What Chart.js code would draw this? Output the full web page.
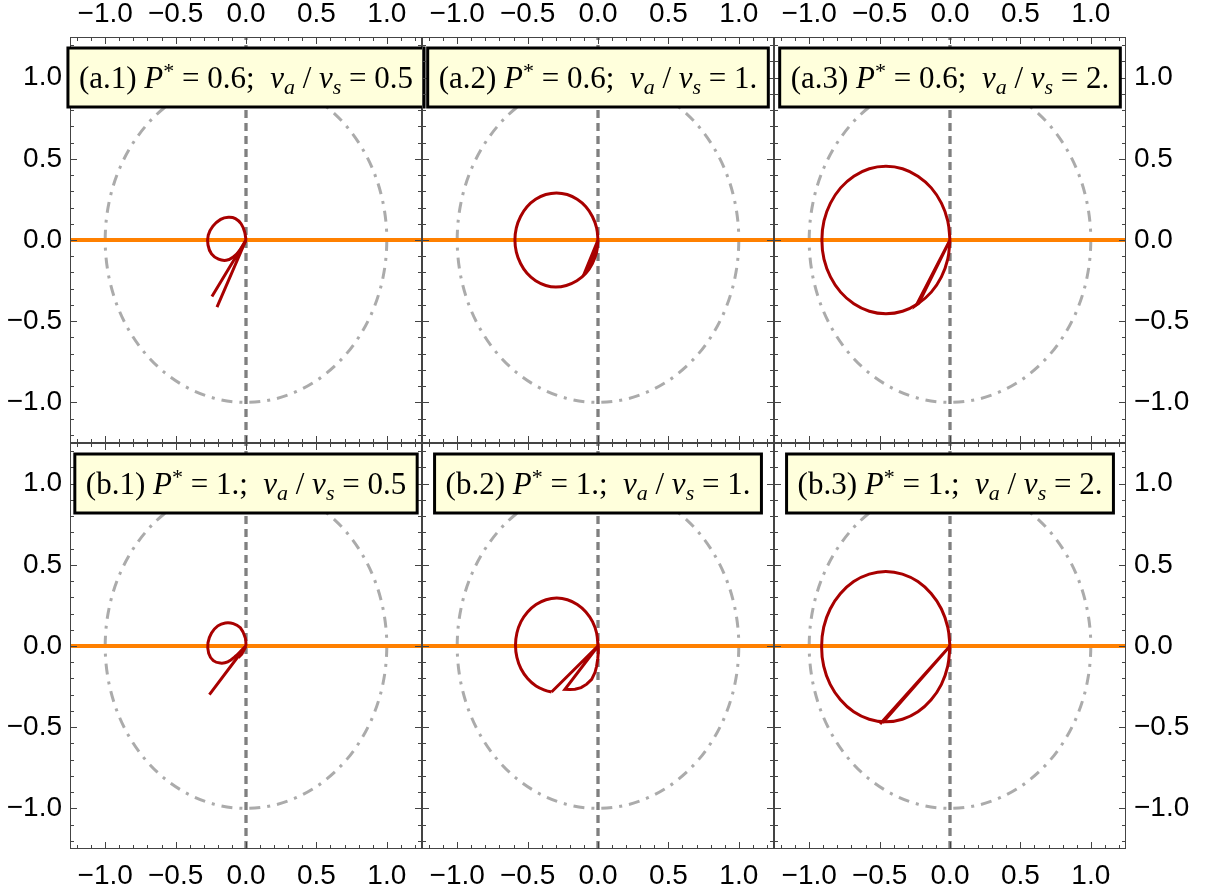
<!DOCTYPE html>
<html>
<head>
<meta charset="utf-8">
<script src="https://cdn.jsdelivr.net/npm/chart.js@4.4.0/dist/chart.umd.min.js"></script>
<style>
  html, body { margin: 0; padding: 0; background: #fff; }
  #wrap { position: relative; width: 1206px; height: 893px; }
  #wrap canvas { position: absolute; left: 0; top: 0; }
</style>
</head>
<body>
<div id="wrap"></div>
<script>
// axis range and tick labels (same for every panel)
var axisMin = -1.25, axisMax = 1.25;
var tickValues = [-1.0, -0.5, 0.0, 0.5, 1.0];
var circleRadius = 1;

// panel captions
var panelTags = ['(a.1)', '(a.2)', '(a.3)', '(b.1)', '(b.2)', '(b.3)'];
var pStar = ['0.6', '0.6', '0.6', '1.', '1.', '1.'];
var speedRatio = ['0.5', '1.', '2.', '0.5', '1.', '2.'];

// trajectories: smooth loop part + straight tail part, [x, y]
var loopA1 = [[0,0],[-0.01,0.05],[-0.035,0.1],[-0.075,0.132],[-0.125,0.14],[-0.18,0.127],[-0.235,0.085],
  [-0.268,0.03],[-0.27,-0.03],[-0.245,-0.085],[-0.195,-0.118],[-0.14,-0.125],[-0.09,-0.105],[-0.04,-0.06],[0,0]];
var tailA1 = [[-0.242,-0.348],[0,0],[-0.206,-0.413]];

var loopA2 = [[0,0],[-0.01,0.075],[-0.04,0.145],[-0.086,0.205],[-0.148,0.251],[-0.219,0.28],[-0.295,0.29],
  [-0.371,0.28],[-0.443,0.251],[-0.504,0.205],[-0.55,0.145],[-0.58,0.075],[-0.59,0],[-0.58,-0.075],
  [-0.55,-0.145],[-0.504,-0.205],[-0.443,-0.251],[-0.371,-0.28],[-0.3,-0.29],[-0.225,-0.28],
  [-0.15,-0.251],[-0.086,-0.205],[-0.04,-0.145],[-0.01,-0.075],[0,0]];
var tailA2 = [[0,0],[-0.092,-0.195],[-0.07,-0.175],[-0.035,-0.115],[-0.01,-0.05],[0,0]];

var loopA3 = [[0,0],[-0.016,0.118],[-0.061,0.227],[-0.133,0.321],[-0.228,0.393],[-0.337,0.439],[-0.455,0.454],
  [-0.573,0.439],[-0.683,0.393],[-0.777,0.321],[-0.849,0.227],[-0.895,0.118],[-0.91,0],[-0.895,-0.118],
  [-0.849,-0.227],[-0.777,-0.321],[-0.683,-0.393],[-0.573,-0.439],[-0.455,-0.454],[-0.337,-0.439],
  [-0.228,-0.393],[-0.133,-0.321],[-0.061,-0.227],[-0.016,-0.118],[0,0]];
var tailA3 = [[0,0],[-0.238,-0.4],[-0.222,-0.39],[0,0]];

var loopB1 = [[0,0],[-0.005,0.05],[-0.04,0.112],[-0.09,0.138],[-0.147,0.142],[-0.2,0.124],[-0.245,0.08],
  [-0.27,0.02],[-0.265,-0.045],[-0.232,-0.09],[-0.183,-0.105],[-0.13,-0.098],[-0.07,-0.06],[-0.025,-0.02],[0,0]];
var tailB1 = [[-0.26,-0.3],[0,0],[-0.055,-0.072],[-0.03,-0.05],[0,0]];

var loopB2 = [[0,0],[-0.01,0.08],[-0.039,0.15],[-0.086,0.21],[-0.147,0.256],[-0.217,0.285],[-0.293,0.295],
  [-0.369,0.285],[-0.44,0.256],[-0.5,0.21],[-0.547,0.15],[-0.576,0.08],[-0.586,0.005],[-0.576,-0.07],
  [-0.547,-0.14],[-0.5,-0.2],[-0.44,-0.246],[-0.369,-0.275],[-0.33,-0.283]];
var tailB2 = [[-0.33,-0.283],[0,0],[0.002,-0.04],[-0.002,-0.08],[-0.01,-0.125],[-0.021,-0.162],[-0.045,-0.205],
  [-0.08,-0.235],[-0.12,-0.256],[-0.163,-0.266],[-0.2,-0.268],[-0.235,-0.267],[0,0]];

var loopB3 = [[0,0],[-0.016,0.116],[-0.061,0.228],[-0.134,0.323],[-0.228,0.397],[-0.338,0.443],[-0.456,0.459],
  [-0.574,0.443],[-0.684,0.397],[-0.778,0.323],[-0.851,0.228],[-0.897,0.116],[-0.912,-0.004],[-0.897,-0.124],
  [-0.851,-0.236],[-0.778,-0.331],[-0.684,-0.405],[-0.574,-0.451],[-0.456,-0.467],[-0.338,-0.451],
  [-0.228,-0.405],[-0.134,-0.331],[-0.061,-0.236],[-0.016,-0.124],[0,0]];
var tailB3 = [[-0.497,-0.481],[0,0],[-0.478,-0.472]];

var loops = [loopA1, loopA2, loopA3, loopB1, loopB2, loopB3];
var tails = [tailA1, tailA2, tailA3, tailB1, tailB2, tailB3];

// guide lines
var horizontalLine = [[axisMin, 0], [axisMax, 0]];
var verticalLine = [[0, axisMin], [0, axisMax]];

// page layout
var W = 1206, H = 893;
var colLeft = [70, 422, 774], colRight = [422, 774, 1126];
var rowTop = [37, 443], rowBottom = [443, 849];

var tickFont = { family: '"Liberation Sans", Arial, sans-serif', size: 28 };
var serif = '"Liberation Serif", "Times New Roman", serif';

function pts(arr) {
  return arr.map(function (p) { return { x: p[0], y: p[1] }; });
}
function fmt(v) {
  return v.toFixed(1).replace('-', '\u2212');
}

var panelDecor = {
  id: 'panelDecor',
  beforeDatasetsDraw: function (chart) {
    var ctx = chart.ctx, xs = chart.scales.x, ys = chart.scales.y, a = chart.chartArea;
    var cx = xs.getPixelForValue(0), cy = ys.getPixelForValue(0);
    var rx = xs.getPixelForValue(circleRadius) - cx;
    var ry = cy - ys.getPixelForValue(circleRadius);
    ctx.save();
    ctx.beginPath();
    ctx.rect(a.left, a.top, a.right - a.left, a.bottom - a.top);
    ctx.clip();
    ctx.strokeStyle = '#ababab';
    ctx.lineWidth = 3;
    ctx.setLineDash([11, 7, 3, 7]);
    ctx.beginPath();
    ctx.ellipse(cx, cy, rx, ry, 0, 0, Math.PI * 2);
    ctx.stroke();
    ctx.restore();
  },
  afterDraw: function (chart, args, opts) {
    var ctx = chart.ctx, xs = chart.scales.x, ys = chart.scales.y, a = chart.chartArea;
    var i = opts.index;
    ctx.save();
    // frame
    ctx.strokeStyle = '#444';
    ctx.lineWidth = 1;
    ctx.strokeRect(a.left + 0.5, a.top + 0.5, a.right - a.left - 1, a.bottom - a.top - 1);
    // inward ticks, every 0.1, longer every 0.5
    ctx.beginPath();
    for (var k = -12; k <= 12; k++) {
      var len = (k % 5 === 0) ? 7 : 4;
      var px = Math.round(xs.getPixelForValue(k / 10)) + 0.5;
      var py = Math.round(ys.getPixelForValue(k / 10)) + 0.5;
      ctx.moveTo(px, a.top); ctx.lineTo(px, a.top + len);
      ctx.moveTo(px, a.bottom); ctx.lineTo(px, a.bottom - len);
      ctx.moveTo(a.left, py); ctx.lineTo(a.left + len, py);
      ctx.moveTo(a.right, py); ctx.lineTo(a.right - len, py);
    }
    ctx.stroke();

    // caption box
    var size = 31;
    var parts = [
      { t: panelTags[i] + ' ', f: 'n' }, { t: 'P', f: 'i' }, { t: '*', f: 'sup' },
      { t: ' = ' + pStar[i] + ';  ', f: 'n' }, { t: 'v', f: 'i' }, { t: 'a', f: 'sub' },
      { t: ' / ', f: 'n' }, { t: 'v', f: 'i' }, { t: 's', f: 'sub' },
      { t: ' = ' + speedRatio[i], f: 'n' }
    ];
    function fontOf(f) {
      if (f === 'n') return size + 'px ' + serif;
      if (f === 'i') return 'italic ' + size + 'px ' + serif;
      if (f === 'sup') return Math.round(size * 0.7) + 'px ' + serif;
      return 'italic ' + Math.round(size * 0.72) + 'px ' + serif;
    }
    var total = 0;
    parts.forEach(function (p) { ctx.font = fontOf(p.f); p.w = ctx.measureText(p.t).width; total += p.w; });
    var padX = 11, boxH = 59;
    var boxW = total + padX * 2;
    var bx = (a.left + a.right) / 2 - boxW / 2;
    var by = a.top + 11;
    ctx.fillStyle = '#ffffdc';
    ctx.fillRect(bx, by, boxW, boxH);
    ctx.strokeStyle = '#000';
    ctx.lineWidth = 3;
    ctx.strokeRect(bx, by, boxW, boxH);
    ctx.fillStyle = '#000';
    ctx.textBaseline = 'alphabetic';
    ctx.textAlign = 'left';
    var tx = bx + padX, base = by + 40;
    parts.forEach(function (p) {
      ctx.font = fontOf(p.f);
      var dy = p.f === 'sup' ? -size * 0.32 : (p.f === 'sub' ? size * 0.2 : 0);
      ctx.fillText(p.t, tx, base + dy);
      tx += p.w;
    });
    ctx.restore();
  }
};

var wrap = document.getElementById('wrap');

for (var i = 0; i < 6; i++) {
  (function (i) {
    var row = Math.floor(i / 3), col = i % 3;
    var canvas = document.createElement('canvas');
    canvas.width = W; canvas.height = H;
    canvas.style.width = W + 'px'; canvas.style.height = H + 'px';
    wrap.appendChild(canvas);

    var xHeight = row === 0 ? rowTop[0] : H - rowBottom[1];
    var yWidth = col === 0 ? colLeft[0] : (col === 2 ? W - colRight[2] : 0);
    var padding = {
      top: row === 0 ? 0 : rowTop[1],
      bottom: row === 0 ? H - rowBottom[0] : 0,
      left: col === 0 ? 0 : colLeft[col],
      right: col === 2 ? 0 : W - colRight[col]
    };

    new Chart(canvas, {
      type: 'scatter',
      data: {
        datasets: [
          { data: pts(loops[i]), showLine: true, pointRadius: 0, borderColor: '#a80000',
            borderWidth: 3, tension: 0.4, fill: false, order: 0 },
          { data: pts(tails[i]), showLine: true, pointRadius: 0, borderColor: '#a80000',
            borderWidth: 3, tension: 0, fill: false, order: 0 },
          { data: pts(horizontalLine), showLine: true, pointRadius: 0, borderColor: '#ff8000',
            borderWidth: 4, fill: false, order: 1 },
          { data: pts(verticalLine), showLine: true, pointRadius: 0, borderColor: '#7f7f7f',
            borderWidth: 3.3, borderDash: [8, 5], fill: false, order: 2 }
        ]
      },
      options: {
        responsive: false,
        animation: false,
        events: [],
        layout: { padding: padding },
        plugins: {
          legend: { display: false },
          tooltip: { enabled: false },
          panelDecor: { index: i }
        },
        scales: {
          x: {
            type: 'linear', min: axisMin, max: axisMax,
            position: row === 0 ? 'top' : 'bottom',
            afterBuildTicks: function (s) { s.ticks = tickValues.map(function (v) { return { value: v }; }); },
            afterFit: function (s) { s.height = xHeight; },
            grid: { display: false, drawTicks: false },
            border: { display: false },
            ticks: { font: tickFont, color: '#000', padding: row === 0 ? 6 : 10,
                     maxRotation: 0, autoSkip: false, callback: fmt }
          },
          y: {
            type: 'linear', min: axisMin, max: axisMax,
            display: col !== 1,
            position: col === 2 ? 'right' : 'left',
            afterBuildTicks: function (s) { s.ticks = tickValues.map(function (v) { return { value: v }; }); },
            afterFit: function (s) { s.width = yWidth; },
            grid: { display: false, drawTicks: false },
            border: { display: false },
            ticks: { font: tickFont, color: '#000', padding: 8, autoSkip: false, callback: fmt }
          }
        }
      },
      plugins: [panelDecor]
    });
  })(i);
}
</script>
</body>
</html>
